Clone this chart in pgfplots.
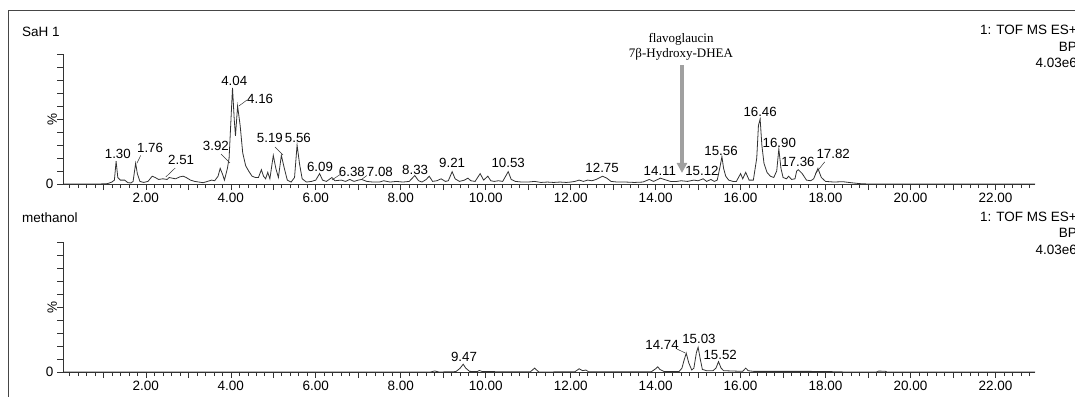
\documentclass[border=0pt]{standalone}
\usepackage{fontspec}
\setmainfont{Liberation Sans}
\newfontfamily\timesf{Liberation Serif}
\usepackage{pgfplots}
\pgfplotsset{compat=1.18}
\usetikzlibrary{arrows.meta}
\definecolor{arrowgray}{RGB}{160,160,160}
\definecolor{trace}{RGB}{50,50,50}
\definecolor{framec}{RGB}{70,70,70}

\pgfplotsset{chrom/.style={
  scale only axis, width=972pt, height=130pt,
  xmin=0.05, xmax=22.93, ymin=0, ymax=100,
  clip=false,
  axis lines=left, axis line style={-, black!80, line width=0.6pt},
  tick align=outside, major tick length=6pt, minor tick length=4pt,
  tick style={black!80, line width=0.6pt},
  xtick={2,4,...,22}, minor xtick={0.2,0.4,...,22.8},
  extra x ticks={1,3,...,21}, extra x tick labels={}, extra x tick style={grid=none},
  ytick={0,10,...,100}, yticklabels={0,,,,,,,,,,},
  x tick label style={font=\fontsize{13.5}{14}\selectfont,
     /pgf/number format/.cd, fixed, fixed zerofill, precision=2, assume math mode=true},
  y tick label style={font=\fontsize{13.5}{14}\selectfont},
}}
\tikzset{pk/.style={font=\fontsize{13.3}{13}\selectfont, inner sep=0pt},
  hdr/.style={font=\fontsize{13.5}{14}\selectfont, inner sep=0pt},
  ldr/.style={black!80, line width=0.5pt}}

\begin{document}
\begin{tikzpicture}
\draw[framec, line width=0.9pt] (8pt,-10pt) rectangle (1100pt,-430pt);

% ---------------- top panel ----------------
\begin{axis}[chrom, at={(63pt,-184pt)}, anchor=south west]
\addplot[trace, line width=0.8pt] coordinates {
(0.05,0) (0.9,0) (1.10,0.3) (1.2,1.5) (1.26,3) (1.30,17.5) (1.34,5) (1.40,3) (1.50,3)
(1.58,1) (1.65,0.8) (1.70,2) (1.76,16) (1.80,8) (1.86,2) (1.95,1.2) (2.05,2) (2.15,6)
(2.22,5) (2.30,3.5) (2.40,4) (2.50,3.5) (2.55,5) (2.62,4.5) (2.70,4) (2.80,5.5) (2.88,6)
(2.95,5) (3.05,3) (3.15,2) (3.25,1.5) (3.35,1) (3.45,2) (3.55,3) (3.62,2.5) (3.70,6)
(3.75,12) (3.80,8) (3.85,3) (3.92,12) (3.96,20) (4.04,74) (4.08,50) (4.11,37) (4.16,60)
(4.22,45) (4.28,24) (4.35,14) (4.42,10) (4.50,6) (4.58,5) (4.65,5) (4.72,11) (4.77,6)
(4.82,4) (4.87,9) (4.92,4) (5.00,22) (5.06,12) (5.12,5) (5.19,22) (5.26,12) (5.33,3)
(5.42,1.5) (5.50,5) (5.56,30) (5.62,15) (5.68,4) (5.78,1.5) (5.90,2) (6.00,3) (6.09,8)
(6.16,3) (6.25,2) (6.38,5) (6.45,2.5) (6.60,3) (6.70,2) (6.80,3.5) (6.90,2) (7.00,3)
(7.08,3.5) (7.20,2) (7.35,1.5) (7.50,1.5) (7.60,2.5) (7.75,1.5) (7.90,2) (8.05,1.5)
(8.20,2) (8.33,6.5) (8.42,2.5) (8.50,1.5) (8.60,3.5) (8.67,6) (8.75,2) (8.85,2.5)
(8.95,4) (9.05,2) (9.12,2.5) (9.21,9.5) (9.28,4) (9.38,2) (9.50,3) (9.58,4.5) (9.65,2.5)
(9.75,2) (9.87,8) (9.95,3) (10.05,6) (10.12,2.5) (10.20,2) (10.30,2.5) (10.40,2)
(10.53,9.5) (10.60,3.5) (10.70,2) (10.85,1.5) (11.00,1.5) (11.15,2) (11.30,1.2)
(11.45,1.5) (11.60,1.2) (11.75,1.5) (11.90,1.2) (12.00,1.5) (12.10,2) (12.20,3)
(12.30,2) (12.40,3) (12.50,2.5) (12.60,3.5) (12.75,6) (12.85,4.5) (12.95,2) (13.10,1.5)
(13.30,1.5) (13.50,1.2) (13.70,1.5) (13.85,3.5) (13.95,2) (14.05,3.5) (14.11,4.5)
(14.20,3.5) (14.35,2) (14.50,2) (14.60,2.5) (14.75,2) (14.90,3) (15.00,2.5) (15.12,4)
(15.20,2) (15.30,3.5) (15.38,2) (15.45,3) (15.52,14) (15.56,21) (15.60,12) (15.65,6)
(15.72,3) (15.82,2) (15.90,2) (16.00,8) (16.05,4) (16.12,9) (16.20,3) (16.30,3)
(16.38,20) (16.42,45) (16.46,50) (16.50,30) (16.55,16) (16.62,9) (16.70,6) (16.78,5)
(16.85,10) (16.90,27) (16.95,12) (17.00,5) (17.08,4) (17.13,6) (17.20,3.5) (17.28,4)
(17.32,10) (17.36,11) (17.45,8) (17.55,3) (17.65,2.5) (17.72,4) (17.82,12) (17.90,5)
(18.00,2) (18.20,1.5) (18.40,1.8) (18.60,1) (18.80,0.3) (19.00,0) (22.93,0)
};
\node[rotate=90, hdr] at (axis description cs:-0.011,0.5) {\%};
\node[pk] at (axis cs:1.34,23.1) {1.30};
\node[pk] at (axis cs:2.10,27.7) {1.76};
\node[pk] at (axis cs:2.83,18.5) {2.51};
\node[pk] at (axis cs:3.65,29.2) {3.92};
\node[pk] at (axis cs:4.08,79.2) {4.04};
\node[pk] at (axis cs:4.69,65.4) {4.16};
\node[pk] at (axis cs:4.92,35.4) {5.19};
\node[pk] at (axis cs:5.58,35.4) {5.56};
\node[pk] at (axis cs:6.10,13.1) {6.09};
\node[pk] at (axis cs:6.85,9.2) {6.38};
\node[pk] at (axis cs:7.51,9.2) {7.08};
\node[pk] at (axis cs:8.34,10.8) {8.33};
\node[pk] at (axis cs:9.21,16.2) {9.21};
\node[pk] at (axis cs:10.53,16.2) {10.53};
\node[pk] at (axis cs:12.74,12.3) {12.75};
\node[pk] at (axis cs:14.10,10) {14.11};
\node[pk] at (axis cs:15.09,10) {15.12};
\node[pk] at (axis cs:15.54,25.4) {15.56};
\node[pk] at (axis cs:16.46,55.4) {16.46};
\node[pk] at (axis cs:16.91,31.5) {16.90};
\node[pk] at (axis cs:17.35,16.9) {17.36};
\node[pk] at (axis cs:18.18,23.1) {17.82};
\draw[ldr] (axis cs:1.79,16) -- (axis cs:1.88,22);
\draw[ldr] (axis cs:2.47,5.4) -- (axis cs:2.69,12.3);
\draw[ldr] (axis cs:3.77,23.1) -- (axis cs:3.98,16.2);
\draw[ldr] (axis cs:4.19,60) -- (axis cs:4.38,64.6);
\draw[ldr] (axis cs:5.04,28.5) -- (axis cs:5.23,22.3);
\draw[ldr] (axis cs:6.38,3.1) -- (axis cs:6.59,7.7);
\draw[ldr] (axis cs:7.08,3.5) -- (axis cs:7.20,6.5);
\draw[ldr] (axis cs:17.76,8) -- (axis cs:17.98,17);
\draw[arrowgray, line width=3.5pt, -{Triangle[width=10pt,length=10pt]}]
  (axis cs:14.62,91.5) -- (axis cs:14.62,8.5);
\end{axis}
\node[font=\timesf\fontsize{13}{13}\selectfont, inner sep=0pt] at (681pt,-39pt) {flavoglaucin};
\node[font=\timesf\fontsize{13}{13}\selectfont, inner sep=0pt] at (681pt,-54pt) {7β-Hydroxy-DHEA};
\node[hdr, anchor=west] at (22pt,-32pt) {SaH 1};
\node[hdr, anchor=east] at (1077pt,-30pt) {1: TOF MS ES+};
\node[hdr, anchor=east] at (1077pt,-47pt) {BP};
\node[hdr, anchor=east] at (1077pt,-63pt) {4.03e6};

% ---------------- bottom panel ----------------
\begin{axis}[chrom, at={(63pt,-372pt)}, anchor=south west]
\addplot[trace, line width=0.8pt] coordinates {
(0.05,0) (8.70,0) (8.80,0.8) (8.90,0) (9.30,0.3) (9.40,3) (9.47,6) (9.53,3) (9.62,0.5)
(9.80,0.3) (9.85,1.2) (9.92,0.3) (11.05,0.2) (11.10,1.5) (11.15,3) (11.20,1.5) (11.25,0)
(12.10,0.2) (12.20,2.5) (12.28,1) (12.36,1.5) (12.42,0.2) (13.90,0.2) (14.00,2.5)
(14.05,4) (14.10,2) (14.20,0.3) (14.55,0.3) (14.62,3) (14.66,8) (14.72,14.5) (14.78,7)
(14.85,1.5) (14.90,3) (14.96,15) (15.00,19) (15.05,10) (15.10,2) (15.20,1) (15.35,1)
(15.42,3) (15.48,8) (15.54,3) (15.60,1) (16.05,0.5) (16.12,3) (16.18,1) (16.30,0.5)
(17.50,0.5) (18.00,0.4) (18.50,0) (19.20,0) (19.25,0.7) (19.40,0.6) (19.45,0) (22.93,0)
};
\node[rotate=90, hdr] at (axis description cs:-0.011,0.5) {\%};
\node[pk] at (axis cs:9.49,11.5) {9.47};
\node[pk] at (axis cs:14.15,20.8) {14.74};
\node[pk] at (axis cs:15.02,25.4) {15.03};
\node[pk] at (axis cs:15.52,13.1) {15.52};
\draw[ldr] (axis cs:14.50,17.7) -- (axis cs:14.70,14.6);
\end{axis}
\node[hdr, anchor=west] at (22pt,-218pt) {methanol};
\node[hdr, anchor=east] at (1077pt,-217pt) {1: TOF MS ES+};
\node[hdr, anchor=east] at (1077pt,-233pt) {BP};
\node[hdr, anchor=east] at (1077pt,-250pt) {4.03e6};

\pgfresetboundingbox
\useasboundingbox (0,0) rectangle (1075pt,-396pt);
\end{tikzpicture}
\end{document}
